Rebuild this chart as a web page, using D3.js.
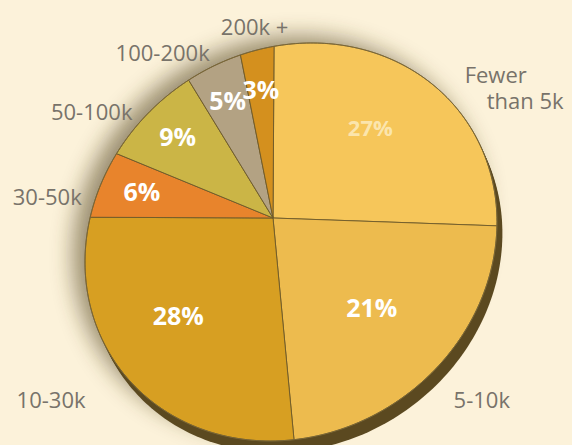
<!DOCTYPE html>
<html>
<head>
<meta charset="utf-8">
<script src="https://cdn.jsdelivr.net/npm/d3@7"></script>
<style>
  html, body { margin: 0; padding: 0; background: #fcf2da; }
  svg { display: block; }
  .cat-label { font-family: "Open Sans", sans-serif; font-size: 22px; fill: #78736a; }
  .pct-label { font-family: "Open Sans", sans-serif; font-weight: 700; font-size: 25px; fill: #ffffff; }
</style>
</head>
<body>
<div id="chart"></div>
<script>
// Share of sites by monthly visitors
const categories = ["Fewer than 5k", "5-10k", "10-30k", "30-50k", "50-100k", "100-200k", "200k +"];
const shares = [27, 21, 28, 6, 9, 5, 3];
const sliceColors = ["#f6c65a", "#edbb4e", "#d79f22", "#e8842c", "#cbb546", "#b3a283", "#d4901e"];

const width = 572, height = 445;

// the disc is seen in perspective: rim is a sheared ellipse, centre pushed up-left
const rim = { cx: 291, cy: 242, rx: 206, ry: 198, shear: -20 };
const apex = [273, 218];

// hand placement of the outside labels (offsets from the computed spot)
const labelNudge = {
    "Fewer than 5k": [14, 34], "5-10k": [-20, 0], "10-30k": [-10, -2], "30-50k": [8, 18],
    "50-100k": [3, 15], "100-200k": [5, 11], "200k +": [0, 3]
};

const v = [(apex[0] - rim.cx) / rim.rx, 0];
v[1] = (apex[1] - rim.cy - rim.shear * v[0]) / rim.ry;
const v2 = v[0] * v[0] + v[1] * v[1];
const gamma = 1 / Math.sqrt(1 - v2);

// point on the flat disc (angle clockwise from 12 o'clock, radius 0..1) -> screen
function project(angle, r) {
    const x = r * Math.sin(angle), y = -r * Math.cos(angle);
    const vp = v[0] * x + v[1] * y;
    const w = gamma * (1 + vp);
    const k = (gamma - 1) * vp / v2 + gamma;
    const px = (x + k * v[0]) / w, py = (y + k * v[1]) / w;
    return [rim.cx + rim.rx * px, rim.cy + rim.shear * px + rim.ry * py];
}

const data = categories.map((c, i) => ({ name: c, value: shares[i], color: sliceColors[i] }));
const pie = d3.pie().value(d => d.value).sort(null);
const arcs = pie(data);
const line = d3.line();

function arcPoints(a0, a1, r) {
    const n = Math.max(2, Math.ceil((a1 - a0) / 0.02));
    return d3.range(n + 1).map(i => project(a0 + (a1 - a0) * i / n, r));
}
function slicePath(d) {
    return line([project(0, 0)].concat(arcPoints(d.startAngle, d.endAngle, 1))) + "Z";
}
const rimPath = line(arcPoints(0, 2 * Math.PI, 1)) + "Z";
const midAngle = d => (d.startAngle + d.endAngle) / 2;

const svg = d3.select("#chart").append("svg")
    .attr("width", width)
    .attr("height", height);

svg.append("rect").attr("width", width).attr("height", height).attr("fill", "#fcf2da");

const defs = svg.append("defs");
defs.append("filter").attr("id", "soft").attr("x", "-30%").attr("y", "-30%").attr("width", "160%").attr("height", "160%")
    .append("feGaussianBlur").attr("stdDeviation", 11);

// soft shadow up and to the left
svg.append("path")
    .attr("d", rimPath)
    .attr("transform", "translate(-12,-7)")
    .attr("fill", "#4a3a12")
    .attr("opacity", 0.55)
    .attr("filter", "url(#soft)");

// disc thickness, mostly seen along the lower right
const band = svg.append("g");
d3.range(1, 7).forEach(i => {
    band.append("path")
        .attr("d", rimPath)
        .attr("transform", `translate(${i * 0.9},${i * 1.9})`)
        .attr("fill", "#5b4920");
});

svg.append("g").selectAll("path")
    .data(arcs)
    .enter()
    .append("path")
    .attr("d", slicePath)
    .attr("fill", d => d.data.color)
    .attr("stroke", "#6d5a2b")
    .attr("stroke-width", 0.9)
    .attr("stroke-linejoin", "round");

svg.append("path")
    .attr("d", rimPath)
    .attr("fill", "none")
    .attr("stroke", "#7a6738")
    .attr("stroke-width", 0.8);

// percentage labels
svg.append("g").selectAll("text")
    .data(arcs)
    .enter()
    .append("text")
    .attr("class", "pct-label")
    .attr("text-anchor", "middle")
    .attr("dy", "0.36em")
    .attr("transform", d => `translate(${project(midAngle(d), d.data.value >= 20 ? 0.64 : 0.74)})`)
    .style("fill", (d, i) => i === 0 ? "#fbe5ad" : null)
    .style("font-size", (d, i) => i === 0 ? "22px" : null)
    .text(d => d.data.value + "%");

// category labels outside the rim
const cat = svg.append("g").selectAll("text")
    .data(arcs)
    .enter()
    .append("text")
    .attr("class", "cat-label")
    .attr("transform", d => {
        const p = project(midAngle(d), 1.18), n = labelNudge[d.data.name];
        return `translate(${p[0] + n[0]},${p[1] + n[1]})`;
    })
    .attr("text-anchor", d => {
        const x = project(midAngle(d), 1.18)[0];
        return x < apex[0] - 20 ? "end" : (x > apex[0] + 20 ? "start" : "middle");
    });

cat.each(function (d) {
    const name = d.data.name;
    const cut = name.indexOf(" ");
    const lines = name.length > 10 ? [name.slice(0, cut), name.slice(cut + 1)] : [name];
    const t = d3.select(this);
    lines.forEach((l, i) => {
        t.append("tspan")
            .attr("x", i * 22)
            .attr("dy", i === 0 ? (lines.length > 1 ? "-0.2em" : "0.35em") : "1.2em")
            .text(l);
    });
});
</script>
</body>
</html>
